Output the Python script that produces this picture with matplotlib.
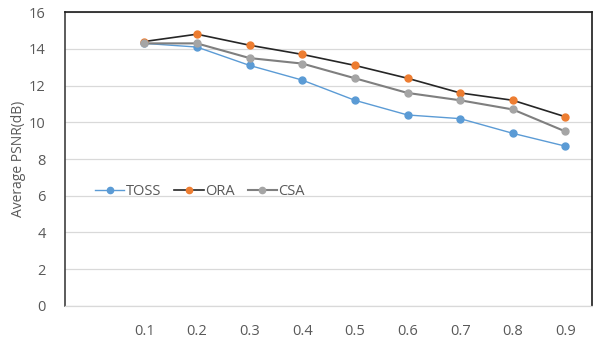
import matplotlib
matplotlib.use("Agg")
import matplotlib.pyplot as plt
import numpy as np

plt.rcParams['font.family'] = ['Open Sans', 'DejaVu Sans']

# categories (first slot is empty in the original chart)
categories = ['', '0.1', '0.2', '0.3', '0.4', '0.5', '0.6', '0.7', '0.8', '0.9']
toss = [14.3, 14.1, 13.1, 12.3, 11.2, 10.4, 10.2, 9.4, 8.7]
ora = [14.4, 14.8, 14.2, 13.7, 13.1, 12.4, 11.6, 11.2, 10.3]
csa = [14.3, 14.3, 13.5, 13.2, 12.4, 11.6, 11.2, 10.7, 9.5]
yticks = [0, 2, 4, 6, 8, 10, 12, 14, 16]

text_col = '#595959'

fig = plt.figure(figsize=(5.93, 3.38), dpi=100)
ax = fig.add_axes([0.110, 0.095, 0.888, 0.869])

x = np.arange(1, len(categories))
ax.plot(x, toss, color='#5B9BD5', lw=1.0, marker='o', ms=5,
        mfc='#5B9BD5', mec='#5B9BD5', label='TOSS', zorder=3)
ax.plot(x, ora, color='#262626', lw=1.2, marker='o', ms=5,
        mfc='#ED7D31', mec='#ED7D31', label='ORA', zorder=3)
ax.plot(x, csa, color='#7F7F7F', lw=1.5, marker='o', ms=5,
        mfc='#A5A5A5', mec='#A5A5A5', label='CSA', zorder=3)

ax.set_xlim(-0.5, len(categories) - 0.5)
ax.set_ylim(0, 16)
ax.set_yticks(yticks)
ax.set_xticks(np.arange(len(categories)))
ax.set_xticklabels(categories)
ax.grid(axis='y', color='#D9D9D9', lw=0.9)
ax.set_axisbelow(True)

for s in ['top', 'right']:
    ax.spines[s].set_color('#1a1a1a')
    ax.spines[s].set_linewidth(1.2)
ax.spines['left'].set_color('#404040')
ax.spines['left'].set_linewidth(1.2)
ax.spines['bottom'].set_color('#D9D9D9')
ax.spines['bottom'].set_linewidth(0.9)

ax.tick_params(axis='both', length=0, colors=text_col, labelsize=10.5)
ax.tick_params(axis='x', pad=13)
ax.tick_params(axis='y', pad=14)
ax.set_ylabel('Average PSNR(dB)', color=text_col, fontsize=10, labelpad=2)

leg = ax.legend(loc='center', bbox_to_anchor=(0.256, 0.39), ncol=3,
                frameon=False, fontsize=10.5, handlelength=2.0,
                handletextpad=0.1, columnspacing=0.9, markerscale=0.9)
for t in leg.get_texts():
    t.set_color(text_col)

fig.savefig('out.png', dpi=100)
